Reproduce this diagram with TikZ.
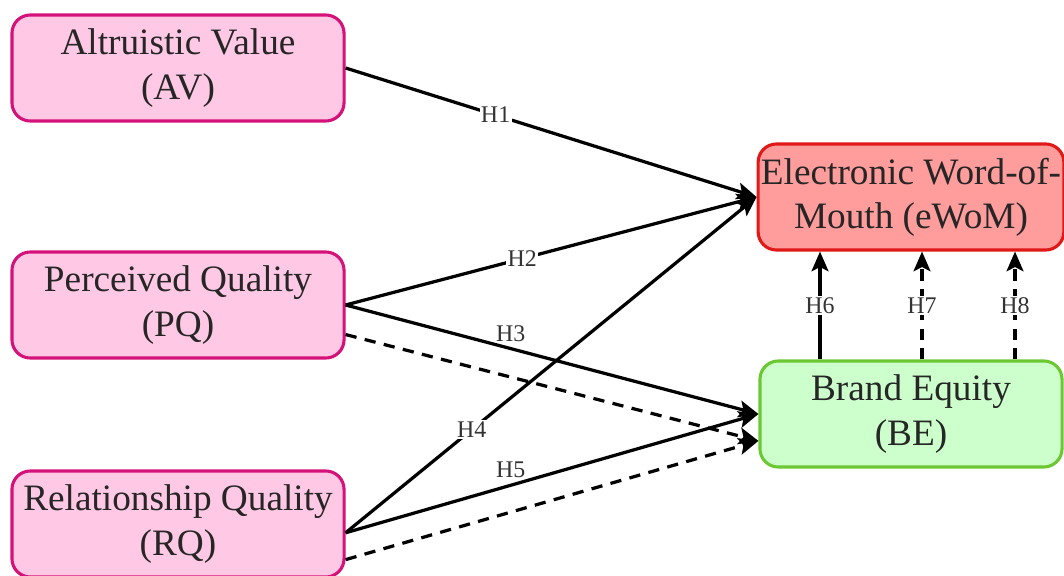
\documentclass[tikz,border=0pt]{standalone}
\usepackage{fontspec}
\setmainfont{Liberation Serif}
\usepackage{xcolor}
\usepackage{tikz}
\usetikzlibrary{calc}
\usetikzlibrary{arrows.meta}
\definecolor{pinkfill}{HTML}{FFC8E4}
\definecolor{pinkline}{HTML}{D4127A}
\definecolor{redfill}{HTML}{FF9C9C}
\definecolor{redline}{HTML}{E01818}
\definecolor{greenfill}{HTML}{CCFFCC}
\definecolor{greenline}{HTML}{6CC832}
\tikzset{
	box/.style={draw,line width=2.2pt,rounded corners=13pt,minimum width=8.3cm,
		minimum height=2.65cm,align=center,inner sep=2pt,text=black!85,
		font=\fontsize{26.5}{31.5}\selectfont},
	cause/.style={box,fill=pinkfill,draw=pinkline},
	link/.style={line width=2.3pt,-{Stealth[length=14pt,width=12pt,inset=3pt]}},
	hyp/.style={font=\fontsize{17}{20}\selectfont,text=black!80,inner sep=1pt},
}

\begin{document}
\begin{tikzpicture}[x=0.025cm,y=-0.025cm]
	\useasboundingbox (0,0) rectangle (1064,576);
	\node[cause] (av) at (178,68) {Altruistic Value\\(AV)};
	\node[cause] (pq) at (178,305) {Perceived Quality\\(PQ)};
	\node[cause] (rq) at (178,524) {Relationship Quality\\(RQ)};
	\node[box,fill=redfill,draw=redline,minimum width=7.55cm] (ewom) at (911,197) {Electronic Word-of-\\Mouth (eWoM)};
	\node[box,fill=greenfill,draw=greenline,minimum width=7.55cm] (be) at (911,414) {Brand Equity\\(BE)};
	\draw[link] (av.east) -- node[hyp,fill=white,pos=0.365]{H1} (ewom.west);
	\draw[link] (pq.east) -- node[hyp,fill=white,pos=0.43]{H2} (ewom.west);
	\draw[link] (pq.east) -- node[hyp,above=3pt,pos=0.4]{H3} (be.west);
	\draw[link,dashed,dash pattern=on 8pt off 6pt] (pq.-10) -- (be.190);
	\draw[link] (rq.-3.5) -- node[hyp,fill=white,pos=0.307]{H4} (ewom.west);
	\draw[link] (rq.-3.5) -- node[hyp,above=3pt,pos=0.4]{H5} (be.west);
	\draw[link,dashed,dash pattern=on 8pt off 6pt] (rq.-12.5) -- (be.190);
	\draw[link] ($(be.north)+(-91,0)$) -- node[hyp,fill=white]{H6} ($(ewom.south)+(-91,0)$);
	\draw[link,dashed,dash pattern=on 8pt off 6pt] ($(be.north)+(11,0)$) -- node[hyp,fill=white]{H7} ($(ewom.south)+(11,0)$);
	\draw[link,dashed,dash pattern=on 8pt off 6pt] ($(be.north)+(104,0)$) -- node[hyp,fill=white]{H8} ($(ewom.south)+(104,0)$);
\end{tikzpicture}
\end{document}
